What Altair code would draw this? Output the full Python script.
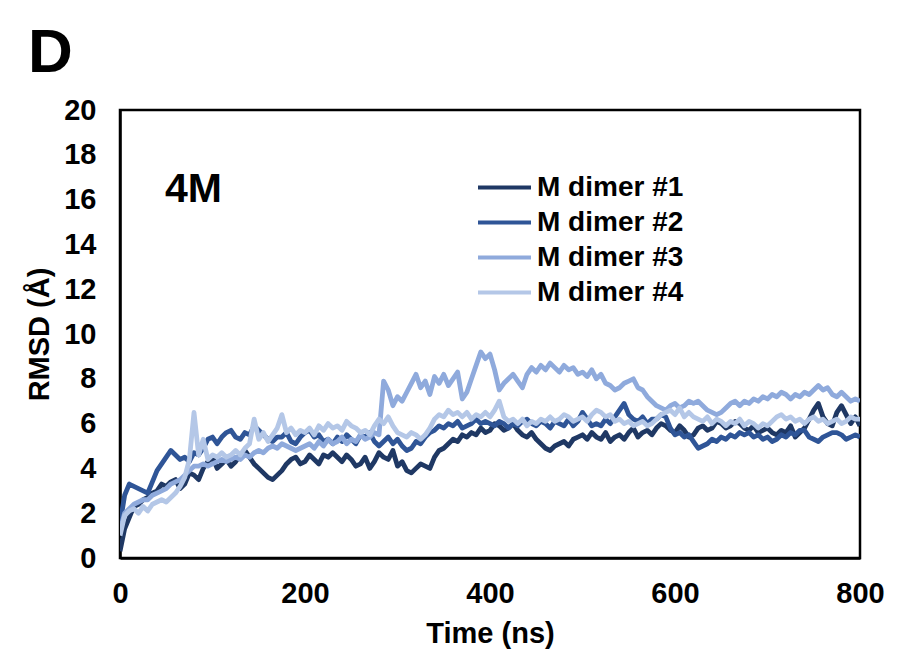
import altair as alt
import pandas as pd

# Time grid (ns) and RMSD values (Å)
time_ns = list(range(0, 801, 5))

dimer1 = [
    0.3, 1.3, 1.8, 2.3, 2.4, 2.6, 2.7, 2.9, 3.0, 3.3, 3.2, 3.4, 3.5, 3.1, 3.3, 3.8, 3.7, 3.5, 4.0, 4.3,
    4.5, 4.0, 4.2, 4.4, 4.1, 4.3, 4.6, 4.8, 4.5, 4.2, 4.0, 3.8, 3.6, 3.5, 3.7, 3.9, 4.2, 4.4, 4.5, 4.2,
    4.3, 4.6, 4.4, 4.2, 4.6, 4.5, 4.7, 4.5, 4.3, 4.6, 4.4, 4.1, 4.2, 4.5, 4.0, 4.3, 4.7, 4.5, 4.4, 4.8,
    4.1, 4.3, 3.9, 3.8, 4.0, 4.2, 4.1, 4.0, 4.5, 4.8, 4.9, 5.1, 5.3, 5.2, 5.5, 5.4, 5.6, 5.5, 5.8, 5.6,
    5.7, 6.0, 5.9, 5.7, 5.8, 6.0, 5.7, 5.5, 5.4, 5.6, 5.3, 5.1, 4.9, 4.8, 5.0, 5.1, 5.2, 5.0, 5.3, 5.4,
    5.5, 5.3, 5.6, 5.4, 5.3, 5.6, 5.2, 5.4, 5.5, 5.3, 5.6, 5.8, 5.4, 5.6, 5.7, 5.5, 5.8, 6.0, 5.9, 5.7,
    5.6, 5.9, 5.7, 5.4, 5.5, 5.8, 5.9, 5.7, 5.8, 6.1, 6.0, 5.8, 5.9, 6.1, 6.0, 5.8, 5.7, 5.9, 5.6, 5.7,
    5.8, 5.6, 5.5, 5.7, 5.6, 5.9, 5.4, 5.6, 5.8, 6.2, 6.6, 6.9, 6.3, 6.0, 5.9, 6.5, 6.8, 6.4, 6.0, 6.3,
    5.9,
]

dimer2 = [
    1.5, 2.8, 3.3, 3.2, 3.1, 3.0, 2.9, 3.4, 3.9, 4.2, 4.5, 4.8, 4.6, 4.4, 4.5, 4.3, 4.7, 4.6, 4.9, 5.3,
    5.4, 5.1, 5.4, 5.6, 5.7, 5.4, 5.3, 5.6, 5.5, 5.9, 5.7, 5.5, 5.3, 5.2, 5.4, 5.4, 5.6, 5.2, 5.1, 5.4,
    5.6, 5.7, 5.4, 5.5, 5.2, 5.3, 5.1, 5.4, 5.2, 5.5, 5.3, 5.1, 5.5, 5.4, 5.6, 5.2, 5.0, 5.2, 5.4, 5.1,
    5.3, 5.0, 4.8, 4.9, 5.2, 5.1, 5.4, 5.6, 5.7, 5.9, 5.8, 6.0, 5.9, 6.1, 5.8, 5.9, 6.0, 6.2, 6.0, 6.1,
    6.0, 5.9, 6.1, 6.0, 5.8, 6.0, 5.9, 6.1, 6.2, 6.0, 5.9, 6.1, 6.0, 5.8, 6.1, 6.0, 5.9, 6.2, 5.9, 6.1,
    6.5, 6.2, 5.9, 6.0, 5.9, 6.2, 6.0, 6.3, 6.6, 6.9, 6.4, 6.2, 6.1, 6.3, 6.0, 6.2, 6.2, 6.4, 6.3, 5.8,
    5.5, 5.6, 5.4, 5.5, 5.2, 4.9, 5.0, 5.1, 5.3, 5.2, 5.4, 5.3, 5.5, 5.4, 5.6, 5.5, 5.6, 5.4, 5.5, 5.3,
    5.4, 5.2, 5.3, 5.5, 5.4, 5.6, 5.5, 5.7, 5.7, 5.4, 5.3, 5.2, 5.4, 5.5, 5.6, 5.6, 5.5, 5.3, 5.4, 5.5,
    5.4,
]

dimer3 = [
    1.2, 2.0, 2.2, 2.4, 2.5, 2.6, 2.6, 2.8, 2.9, 3.0, 3.1, 3.3, 3.4, 3.5, 3.7, 3.9, 4.1, 4.1, 4.2, 4.1,
    4.2, 4.3, 4.4, 4.3, 4.4, 4.5, 4.4, 4.6, 4.5, 4.7, 4.8, 4.7, 4.9, 5.0, 4.9, 5.1, 5.0, 4.9, 4.8, 4.9,
    5.0, 5.1, 4.9, 5.2, 5.0, 5.3, 5.1, 5.2, 5.4, 5.1, 5.3, 5.2, 5.5, 5.3, 5.4, 5.6, 5.5, 7.9, 7.5, 6.8,
    7.2, 7.0, 7.4, 7.8, 8.2, 7.6, 7.9, 7.3, 8.1, 7.8, 8.2, 7.7, 8.0, 8.3, 7.1, 7.4, 8.0, 8.6, 9.2, 8.9,
    9.1, 8.4, 7.5, 7.8, 8.0, 8.2, 7.9, 7.6, 8.2, 8.5, 8.3, 8.6, 8.4, 8.7, 8.5, 8.3, 8.6, 8.4, 8.5, 8.2,
    8.3, 8.1, 8.4, 8.0, 8.2, 7.8, 7.7, 7.5, 7.6, 7.8, 7.9, 8.0, 7.6, 7.5, 7.2, 7.0, 6.8, 6.7, 6.6, 6.8,
    6.9, 6.7, 6.8, 7.0, 6.9, 7.0, 6.8, 6.6, 6.5, 6.4, 6.5, 6.7, 6.9, 7.0, 6.8, 7.0, 6.9, 7.1, 7.0, 7.2,
    7.1, 7.3, 7.2, 7.4, 7.3, 7.1, 7.3, 7.2, 7.4, 7.3, 7.5, 7.7, 7.5, 7.6, 7.3, 7.2, 7.4, 7.2, 7.0, 7.1,
    7.0,
]

dimer4 = [
    1.0, 1.9, 2.1, 2.2, 2.0, 2.3, 2.1, 2.4, 2.5, 2.6, 2.5, 2.7, 2.9, 3.2, 3.6, 4.4, 6.5, 4.6, 5.3, 4.4,
    4.6, 4.5, 4.7, 4.5, 4.6, 4.8, 4.6, 4.9, 5.1, 6.2, 5.3, 5.6, 5.2, 5.5, 5.8, 6.4, 5.6, 5.8, 5.5, 5.7,
    5.6, 5.8, 5.5, 5.9, 5.7, 6.0, 5.8, 5.9, 5.7, 6.1, 5.9, 5.8, 5.6, 5.7, 5.5, 5.9, 6.2, 6.0, 6.3, 5.9,
    5.6, 5.5, 5.4, 5.6, 5.5, 5.3, 5.5, 5.8, 6.2, 6.4, 6.3, 6.6, 6.4, 6.5, 6.3, 6.5, 6.2, 6.4, 6.3, 6.5,
    6.3, 6.6, 7.0, 6.3, 6.1, 6.2, 6.0, 6.2, 5.9, 6.1, 6.0, 6.2, 6.1, 6.3, 6.1, 6.2, 6.4, 6.3, 6.1, 6.2,
    6.3, 6.1, 6.4, 6.6, 6.5, 6.3, 6.4, 6.1, 6.2, 6.0, 6.1, 5.9, 6.0, 6.1, 5.9, 6.0, 6.2, 6.4, 6.5, 6.6,
    6.4, 6.7, 6.3, 6.5, 6.3, 6.2, 6.1, 6.3, 6.0, 6.2, 6.1, 5.9, 6.1, 6.0, 6.2, 5.9, 6.1, 6.0, 5.8, 6.0,
    5.9, 6.1, 6.3, 6.4, 6.2, 6.3, 6.1, 6.2, 6.0, 6.2, 6.3, 6.1, 6.2, 6.0, 6.1, 6.2, 6.0, 6.1, 6.3, 6.2,
    6.2,
]

series_names = ["M dimer #1", "M dimer #2", "M dimer #3", "M dimer #4"]
series_colors = ["#1f3864", "#2f5597", "#8faadc", "#b4c7e7"]
x_ticks = [0, 200, 400, 600, 800]
y_ticks = [0, 2, 4, 6, 8, 10, 12, 14, 16, 18, 20]

rows = []
for name, vals in zip(series_names, [dimer1, dimer2, dimer3, dimer4]):
    for t, v in zip(time_ns, vals):
        rows.append({"time": t, "rmsd": v, "series": name})
df = pd.DataFrame(rows)

FONT = "Liberation Sans"

lines = alt.Chart(df).mark_line(strokeWidth=4.8, strokeJoin="round", clip=True).encode(
    x=alt.X(
        "time:Q",
        scale=alt.Scale(domain=[0, 800], nice=False),
        axis=alt.Axis(values=x_ticks, title="Time (ns)", labelPadding=21, titlePadding=11,
                      labelFlush=False),
    ),
    y=alt.Y(
        "rmsd:Q",
        scale=alt.Scale(domain=[0, 20], nice=False),
        axis=alt.Axis(values=y_ticks, title="RMSD (Å)", labelPadding=24, titlePadding=9,
                      labelFlush=False),
    ),
    color=alt.Color(
        "series:N",
        scale=alt.Scale(domain=series_names, range=series_colors),
        legend=alt.Legend(
            title=None,
            orient="none",
            legendX=369,
            legendY=62,
            symbolType="M-2,0H2",
            symbolSize=702,
            symbolStrokeWidth=4,
            labelFont=FONT,
            labelFontSize=28,
            labelFontWeight="bold",
            labelColor="black",
            labelOffset=17,
            rowPadding=5,
            padding=0,
        ),
    ),
)

label_4m = alt.Chart(pd.DataFrame({"label": ["4M"]})).mark_text(
    font=FONT, fontSize=41, fontWeight="bold", color="black", align="left", baseline="alphabetic"
).encode(text="label:N", x=alt.value(45), y=alt.value(92))

label_d = alt.Chart(pd.DataFrame({"label": ["D"]})).mark_text(
    font=FONT, fontSize=62, fontWeight="bold", color="black", align="left", baseline="alphabetic"
).encode(text="label:N", x=alt.value(-92), y=alt.value(-38))

chart = (
    alt.layer(lines, label_4m, label_d)
    .properties(
        width=740,
        height=448,
        autosize="none",
        padding={"left": 112, "top": 102, "right": 30, "bottom": 92},
    )
    .configure_view(stroke="black", strokeWidth=2.5)
    .configure_axis(
        domainColor="black",
        domainWidth=2.5,
        ticks=False,
        tickSize=0,
        grid=False,
        labelFont=FONT,
        labelFontSize=29,
        labelFontWeight="bold",
        labelColor="black",
        titleFont=FONT,
        titleFontSize=29,
        titleFontWeight="bold",
        titleColor="black",
    )
)

chart.save("out.html", embed_options={"renderer": "svg", "actions": False})
